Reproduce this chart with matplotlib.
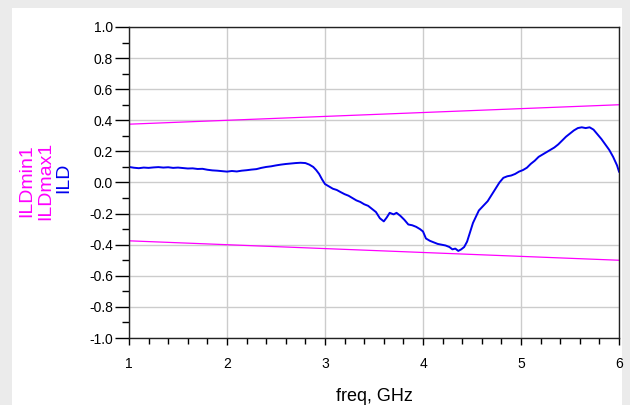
import matplotlib.pyplot as plt
from matplotlib.ticker import MultipleLocator
from matplotlib.patches import Rectangle

plt.rcParams['font.family'] = ['Liberation Sans', 'DejaVu Sans']

# ILD trace (freq in GHz, value)
freq = [1.00, 1.05, 1.10, 1.15, 1.20, 1.25, 1.30, 1.35, 1.40, 1.45, 1.50, 1.55,
        1.60, 1.65, 1.70, 1.75, 1.80, 1.85, 1.90, 1.95, 2.00, 2.05, 2.10, 2.15,
        2.20, 2.25, 2.30, 2.35, 2.40, 2.45, 2.50, 2.55, 2.60, 2.65, 2.70, 2.75,
        2.80, 2.84, 2.88, 2.91, 2.94, 2.97, 3.00, 3.04, 3.08, 3.12, 3.16, 3.20,
        3.24, 3.28, 3.32, 3.36, 3.40, 3.44, 3.48, 3.52, 3.56, 3.60, 3.63, 3.66,
        3.70, 3.73, 3.77, 3.81, 3.85, 3.89, 3.93, 3.97, 4.00, 4.03, 4.07, 4.11,
        4.15, 4.19, 4.23, 4.27, 4.30, 4.33, 4.36, 4.39, 4.42, 4.45, 4.48, 4.51,
        4.54, 4.57, 4.60, 4.63, 4.66, 4.70, 4.74, 4.78, 4.82, 4.86, 4.90, 4.94,
        4.98, 5.02, 5.06, 5.10, 5.14, 5.18, 5.22, 5.26, 5.30, 5.34, 5.38, 5.42,
        5.46, 5.50, 5.54, 5.58, 5.62, 5.66, 5.70, 5.74, 5.78, 5.82, 5.86, 5.90,
        5.94, 5.98, 6.00]
ild = [0.100, 0.095, 0.092, 0.096, 0.094, 0.097, 0.099, 0.096, 0.098, 0.094,
       0.096, 0.093, 0.090, 0.091, 0.087, 0.088, 0.082, 0.078, 0.076, 0.073,
       0.070, 0.074, 0.071, 0.076, 0.079, 0.083, 0.086, 0.094, 0.100, 0.104,
       0.110, 0.115, 0.119, 0.122, 0.125, 0.127, 0.125, 0.115, 0.100, 0.080,
       0.055, 0.020, -0.010, -0.025, -0.040, -0.048, -0.062, -0.075, -0.085,
       -0.100, -0.115, -0.125, -0.140, -0.150, -0.170, -0.190, -0.230, -0.250,
       -0.225, -0.195, -0.205, -0.195, -0.215, -0.240, -0.270, -0.275, -0.285,
       -0.300, -0.315, -0.360, -0.375, -0.385, -0.395, -0.400, -0.405, -0.415,
       -0.430, -0.425, -0.440, -0.430, -0.415, -0.380, -0.320, -0.260, -0.220,
       -0.180, -0.160, -0.140, -0.120, -0.080, -0.040, 0.000, 0.030, 0.040,
       0.045, 0.055, 0.070, 0.080, 0.095, 0.120, 0.140, 0.165, 0.180, 0.195,
       0.210, 0.225, 0.245, 0.270, 0.295, 0.315, 0.335, 0.350, 0.355, 0.350,
       0.355, 0.340, 0.310, 0.280, 0.245, 0.210, 0.165, 0.110, 0.070]

# limit lines
lim_freq = [1.0, 6.0]
ild_max = [0.375, 0.500]
ild_min = [-0.375, -0.500]

fig = plt.figure(figsize=(6.3, 4.05), dpi=100, facecolor='#ebebeb')
fig.patches.append(Rectangle((12/630, 0), 610/630, 397/405, transform=fig.transFigure,
                             facecolor='white', edgecolor='none', zorder=-10))
ax = fig.add_axes([129/630, 1 - 338/405, 490/630, 311/405])
ax.set_zorder(5)

ax.plot(lim_freq, ild_max, color='#ff00ff', lw=0.9)
ax.plot(lim_freq, ild_min, color='#ff00ff', lw=0.9)
ax.plot(freq, ild, color='#0000ee', lw=1.4)

ax.set_xlim(1, 6)
ax.set_ylim(-1, 1)
ax.xaxis.set_major_locator(MultipleLocator(1))
ax.xaxis.set_minor_locator(MultipleLocator(0.2))
ax.yaxis.set_major_locator(MultipleLocator(0.2))
ax.yaxis.set_minor_locator(MultipleLocator(0.1))
ax.yaxis.set_major_formatter(lambda v, p: f'{v:.1f}')
ax.grid(True, which='major', color='#cccccc', lw=1)
ax.set_axisbelow(True)

ax.tick_params(axis='y', which='major', length=10, width=1, labelsize=10, pad=1.5)
ax.tick_params(axis='y', which='minor', length=5, width=1)
ax.tick_params(axis='x', which='major', length=5, width=1, labelsize=10, pad=9)
ax.tick_params(axis='x', which='minor', length=4, width=1)
for s in ax.spines.values():
    s.set_color('#222222')
    s.set_linewidth(1)

ax.set_xlabel('freq, GHz', fontsize=13, labelpad=12)

fig.text(27/630, 1 - 181/405, 'ILDmin1', color='#ff00ff', rotation=90,
         ha='center', va='center', fontsize=14)
fig.text(46/630, 1 - 181/405, 'ILDmax1', color='#ff00ff', rotation=90,
         ha='center', va='center', fontsize=14)
fig.text(64/630, 1 - 178/405, 'ILD', color='#0000ee', rotation=90,
         ha='center', va='center', fontsize=14)

fig.savefig('out.png', dpi=100, facecolor=fig.get_facecolor())
